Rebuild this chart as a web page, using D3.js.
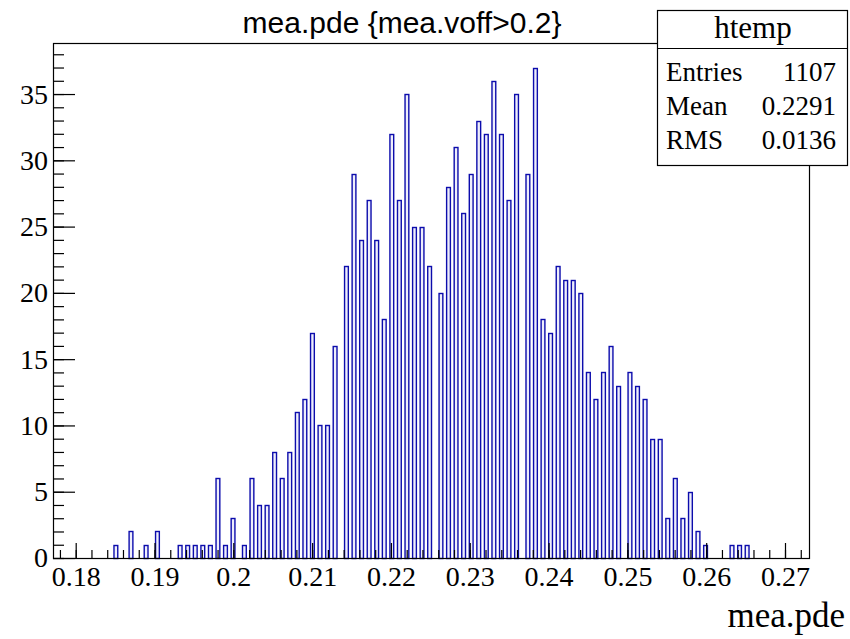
<!DOCTYPE html>
<html>
<head>
<meta charset="utf-8">
<script src="https://cdn.jsdelivr.net/npm/d3@7"></script>
<style>
  html, body { margin: 0; padding: 0; background: #fff; }
  svg { display: block; }
</style>
</head>
<body>
<svg id="chart" width="850" height="639"></svg>
<script>
// ---- data ----
const titleText = "mea.pde {mea.voff>0.2}";
const xAxisTitle = "mea.pde";
const xMin = 0.17712, xMax = 0.273045, nBins = 200;
const binIndex = [16,20,24,27,33,35,37,39,41,43,45,47,50,52,54,56,58,60,62,64,66,68,70,72,74,77,79,81,83,85,87,89,91,93,95,97,99,102,104,106,108,110,112,114,116,118,120,122,125,127,129,131,133,135,137,139,141,143,145,147,149,152,154,156,158,160,162,164,166,168,170,172,179,181,183];
const binCounts = [1,2,1,2,1,1,1,1,1,6,1,3,1,6,4,4,8,6,8,11,12,17,10,10,16,22,29,24,27,24,18,32,27,35,25,25,22,20,28,31,26,29,33,32,36,32,27,35,29,37,18,17,22,21,21,20,14,12,14,16,13,14,13,12,9,9,3,6,3,5,2,1,1,1,1];
const xTickValues = [0.18,0.19,0.20,0.21,0.22,0.23,0.24,0.25,0.26,0.27];
const xTickLabels = ["0.18","0.19","0.2","0.21","0.22","0.23","0.24","0.25","0.26","0.27"];
const yTickValues = [0,5,10,15,20,25,30,35];
const yMax = 38.85;
const statsTitle = "htemp";
const statLabels = ["Entries","Mean","RMS"];
const statValues = ["1107","0.2291","0.0136"];

// ---- layout ----
const frame = {left: 53, right: 809, top: 43, bottom: 558};
const svg = d3.select("#chart");
const serif = "'Liberation Serif','Times New Roman',Times,serif";
const sans = "'Liberation Sans',Arial,Helvetica,sans-serif";

const x = d3.scaleLinear().domain([xMin, xMax]).range([frame.left, frame.right]);
const y = d3.scaleLinear().domain([0, yMax]).range([frame.bottom, frame.top]);
const binW = (xMax - xMin) / nBins;

const bars = binIndex.map((b, i) => ({b, c: binCounts[i]}));

// bars
svg.append("g").selectAll("rect").data(bars).join("rect")
  .attr("x", d => x(xMin + d.b * binW) + 0.5)
  .attr("width", d => x(xMin + (d.b + 1) * binW) - x(xMin + d.b * binW))
  .attr("y", d => Math.round(y(d.c)) + 0.5)
  .attr("height", d => frame.bottom - Math.round(y(d.c)))
  .attr("fill", "#eeeefb")
  .attr("stroke", "#0c0cac")
  .attr("stroke-width", 1.4);

// x axis (ticks inward)
const xMinor = d3.range(0.178, 0.2725, 0.002).filter(v => v >= xMin && v <= xMax);
const gxm = svg.append("g").attr("transform", `translate(0,${frame.bottom})`)
  .call(d3.axisBottom(x).tickValues(xMinor).tickSize(-8).tickFormat(""));
const gx = svg.append("g").attr("transform", `translate(0,${frame.bottom})`)
  .call(d3.axisBottom(x).tickValues(xTickValues).tickSize(-15).tickPadding(8)
        .tickFormat((d, i) => xTickLabels[i]));
[gxm, gx].forEach(g => { g.select(".domain").remove(); g.selectAll("line").attr("stroke", "#000").attr("stroke-width", 1.2); });
gx.selectAll("text").attr("font-family", serif).attr("font-size", 28).attr("fill", "#000");

// y axis (ticks inward)
const yMinor = d3.range(0, 39, 1);
const gym = svg.append("g").attr("transform", `translate(${frame.left},0)`)
  .call(d3.axisLeft(y).tickValues(yMinor).tickSize(-11).tickFormat(""));
const gy = svg.append("g").attr("transform", `translate(${frame.left},0)`)
  .call(d3.axisLeft(y).tickValues(yTickValues).tickSize(-22).tickPadding(5).tickFormat(d3.format("d")));
[gym, gy].forEach(g => { g.select(".domain").remove(); g.selectAll("line").attr("stroke", "#000").attr("stroke-width", 1.2); });
gy.selectAll("text").attr("font-family", serif).attr("font-size", 28).attr("fill", "#000");

// frame
svg.append("rect")
  .attr("x", frame.left + 0.5).attr("y", frame.top + 0.5)
  .attr("width", frame.right - frame.left).attr("height", frame.bottom - frame.top)
  .attr("fill", "none").attr("stroke", "#000").attr("stroke-width", 1.2);

// title
svg.append("text").attr("x", 402).attr("y", 33).attr("text-anchor", "middle")
  .attr("font-family", sans).attr("font-size", 30).attr("fill", "#000").text(titleText);

// x axis title
svg.append("text").attr("x", 845).attr("y", 627).attr("text-anchor", "end")
  .attr("font-family", serif).attr("font-size", 35).attr("fill", "#000").text(xAxisTitle);

// stats box
const sb = {x: 657, y: 10, w: 190, h: 155, div: 48};
svg.append("rect").attr("x", sb.x + 0.5).attr("y", sb.y + 0.5).attr("width", sb.w).attr("height", sb.h)
  .attr("fill", "#fff").attr("stroke", "#000").attr("stroke-width", 1.2);
svg.append("line").attr("x1", sb.x).attr("x2", sb.x + sb.w).attr("y1", sb.div + 0.5).attr("y2", sb.div + 0.5)
  .attr("stroke", "#000").attr("stroke-width", 1.2);
svg.append("text").attr("x", sb.x + sb.w / 2 + 1).attr("y", 38).attr("text-anchor", "middle")
  .attr("font-family", serif).attr("font-size", 31).attr("fill", "#000").text(statsTitle);
const rowY = [81, 115, 149];
statLabels.forEach((l, i) => {
  svg.append("text").attr("x", 666).attr("y", rowY[i])
    .attr("font-family", serif).attr("font-size", 27).attr("fill", "#000").text(l);
  svg.append("text").attr("x", 836).attr("y", rowY[i]).attr("text-anchor", "end")
    .attr("font-family", serif).attr("font-size", 27).attr("fill", "#000").text(statValues[i]);
});
</script>
</body>
</html>
